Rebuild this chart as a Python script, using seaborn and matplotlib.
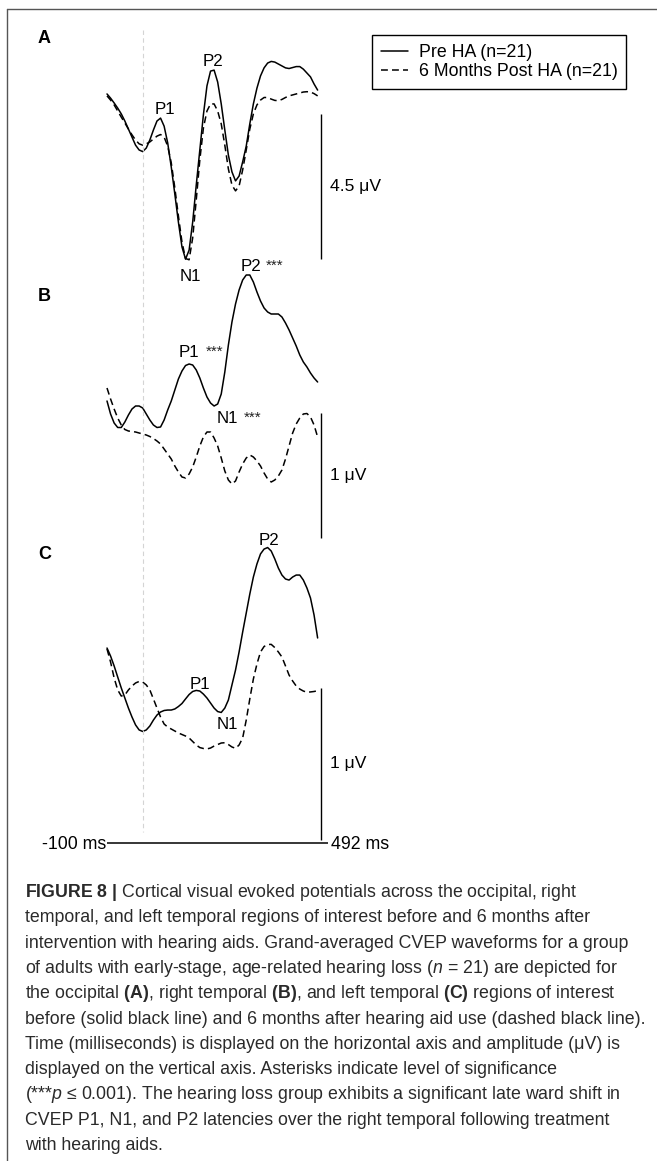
import numpy as np
import pandas as pd
import matplotlib
matplotlib.use("Agg")
import matplotlib.pyplot as plt
import seaborn as sns
from matplotlib.lines import Line2D
from matplotlib import transforms

sns.set_theme(style="white")
plt.rcParams["font.family"] = ["Liberation Sans", "DejaVu Sans"]
plt.rcParams["mathtext.fontset"] = "custom"
plt.rcParams["mathtext.rm"] = "Liberation Sans"
plt.rcParams["mathtext.it"] = "Liberation Sans:italic"
plt.rcParams["mathtext.bf"] = "Liberation Sans:bold"

# ---------------- data (time in ms, amplitude in microvolts) ----------------
time_ms = [-100, -90, -80, -70, -60, -50, -40, -30, -20, -10,
           0, 10, 20, 30, 40, 50, 60, 70, 80, 90,
           100, 110, 120, 130, 140, 150, 160, 170, 180, 190,
           200, 210, 220, 230, 240, 250, 260, 270, 280, 290,
           300, 310, 320, 330, 340, 350, 360, 370, 380, 390,
           400, 410, 420, 430, 440, 450, 460, 470, 480, 490]
conditions = ["Pre HA (n=21)", "6 Months Post HA (n=21)"]

# (A) occipital
occ_pre = [1.43, 1.30, 1.15, 0.99, 0.81, 0.59, 0.34, 0.09, -0.16, -0.31,
           -0.36, -0.25, 0.00, 0.31, 0.59, 0.68, 0.43, -0.09, -0.84, -1.68,
           -2.55, -3.32, -3.70, -3.42, -2.55, -1.40, -0.31, 0.78, 1.68, 2.14,
           2.17, 1.80, 1.12, 0.31, -0.47, -0.99, -1.27, -1.12, -0.68, -0.19,
           0.50, 1.12, 1.61, 1.99, 2.24, 2.39, 2.44, 2.42, 2.36, 2.30,
           2.24, 2.22, 2.25, 2.28, 2.28, 2.20, 2.08, 1.96, 1.74, 1.55]
occ_post = [1.37, 1.24, 1.09, 0.90, 0.71, 0.53, 0.34, 0.16, 0.00, -0.12,
            -0.16, -0.12, -0.06, 0.03, 0.12, 0.17, 0.09, -0.19, -0.71, -1.49,
            -2.36, -3.17, -3.68, -3.72, -3.04, -1.86, -0.62, 0.37, 0.90, 1.12,
            1.12, 0.90, 0.50, -0.16, -0.90, -1.40, -1.58, -1.43, -0.93, -0.31,
            0.34, 0.81, 1.09, 1.24, 1.32, 1.32, 1.27, 1.23, 1.22, 1.26,
            1.32, 1.37, 1.40, 1.43, 1.46, 1.49, 1.50, 1.49, 1.44, 1.37]
# (B) right temporal
rt_pre = [0.232, 0.128, 0.056, 0.020, 0.020, 0.064, 0.120, 0.168, 0.192, 0.192,
          0.176, 0.128, 0.080, 0.040, 0.020, 0.024, 0.080, 0.160, 0.232, 0.320,
          0.408, 0.472, 0.516, 0.528, 0.520, 0.480, 0.416, 0.336, 0.264, 0.216,
          0.192, 0.208, 0.288, 0.464, 0.680, 0.864, 1.008, 1.120, 1.200, 1.240,
          1.240, 1.184, 1.104, 1.032, 0.976, 0.944, 0.928, 0.928, 0.928, 0.904,
          0.856, 0.800, 0.736, 0.672, 0.600, 0.544, 0.504, 0.456, 0.416, 0.384]
rt_post = [0.336, 0.248, 0.168, 0.096, 0.040, 0.004, -0.008, -0.012, -0.016, -0.024,
           -0.032, -0.040, -0.052, -0.068, -0.088, -0.112, -0.152, -0.192, -0.232, -0.288,
           -0.336, -0.376, -0.384, -0.352, -0.296, -0.216, -0.128, -0.056, -0.016, -0.016,
           -0.064, -0.128, -0.224, -0.328, -0.400, -0.432, -0.408, -0.336, -0.272, -0.224,
           -0.200, -0.216, -0.248, -0.288, -0.344, -0.392, -0.416, -0.400, -0.368, -0.320,
           -0.232, -0.128, -0.024, 0.048, 0.096, 0.128, 0.132, 0.104, 0.040, -0.056]
# (C) left temporal
lt_pre = [0.342, 0.289, 0.224, 0.151, 0.079, 0.013, -0.053, -0.112, -0.164, -0.197,
          -0.207, -0.197, -0.171, -0.132, -0.099, -0.079, -0.069, -0.066, -0.066, -0.059,
          -0.043, -0.023, 0.007, 0.036, 0.056, 0.063, 0.059, 0.039, 0.013, -0.020,
          -0.053, -0.076, -0.082, -0.053, 0.000, 0.099, 0.197, 0.316, 0.447, 0.572,
          0.697, 0.809, 0.895, 0.961, 0.993, 1.003, 0.980, 0.928, 0.868, 0.822,
          0.796, 0.789, 0.809, 0.822, 0.822, 0.789, 0.737, 0.671, 0.559, 0.408]
lt_post = [0.336, 0.250, 0.145, 0.066, 0.026, 0.033, 0.066, 0.092, 0.112, 0.122,
           0.118, 0.099, 0.066, 0.007, -0.053, -0.112, -0.158, -0.178, -0.191, -0.204,
           -0.217, -0.227, -0.237, -0.250, -0.273, -0.296, -0.313, -0.319, -0.322, -0.316,
           -0.303, -0.293, -0.283, -0.281, -0.293, -0.309, -0.318, -0.296, -0.250, -0.132,
           0.007, 0.138, 0.237, 0.316, 0.352, 0.365, 0.366, 0.345, 0.316, 0.283,
           0.224, 0.164, 0.125, 0.092, 0.072, 0.059, 0.051, 0.053, 0.056, 0.061]

scale_bar_uv = [4.5, 1.0, 1.0]
scale_labels = ["4.5 μV", "1 μV", "1 μV"]
time_labels = ["-100 ms", "492 ms"]
panel_letters = ["A", "B", "C"]

# ---------------- layout (pixels) ----------------
W, H = 657, 1161
X0_PX, PX_PER_MS = 107.0, 0.357       # x pixel of -100 ms, pixels per ms
panels = [
    dict(pre=occ_pre, post=occ_post, y0=140, s=32.2, top=20, bottom=290, bar_bottom=-3.70),
    dict(pre=rt_pre, post=rt_post, y0=430, s=125.0, top=255, bottom=550, bar_bottom=-0.864),
    dict(pre=lt_pre, post=lt_post, y0=700, s=152.0, top=530, bottom=860, bar_bottom=-0.921),
]
LW = 1.1
DASH = (4.5, 2.7)


def px_to_t(x):
    return (x - X0_PX) / PX_PER_MS - 100


fig = plt.figure(figsize=(W / 100, H / 100), dpi=100)
fig.patch.set_facecolor("white")


def ftext(x, y, s, **kw):
    return fig.text(x / W, 1 - y / H, s, **kw)


axes = []
for i, p in enumerate(panels):
    ax = fig.add_axes([0, 1 - p["bottom"] / H, 1, (p["bottom"] - p["top"]) / H])
    ax.patch.set_alpha(0)
    df = pd.DataFrame({
        "time": time_ms * 2,
        "amp": list(p["pre"]) + list(p["post"]),
        "condition": [conditions[0]] * len(time_ms) + [conditions[1]] * len(time_ms),
    })
    sns.lineplot(data=df, x="time", y="amp", style="condition", style_order=conditions,
                 dashes={conditions[0]: "", conditions[1]: DASH}, color="black",
                 linewidth=LW, estimator=None, sort=False, legend=False, ax=ax)
    ax.set_xlim(px_to_t(0), px_to_t(W))
    ax.set_ylim((p["y0"] - p["bottom"]) / p["s"], (p["y0"] - p["top"]) / p["s"])
    ax.axis("off")
    # amplitude scale bar
    t_bar = px_to_t(320.7)
    b0 = p["bar_bottom"]
    b1 = b0 + scale_bar_uv[i]
    ax.plot([t_bar, t_bar], [b0, b1], color="black", lw=1.0, solid_capstyle="butt")
    ax.text(px_to_t(330), (b0 + b1) / 2, scale_labels[i], ha="left", va="center",
            fontsize=12.6, color="black")
    axes.append(ax)

# time axis under panel C
axC = axes[2]
y_axis = (panels[2]["y0"] - 843) / panels[2]["s"]
axC.plot([time_ms[0], px_to_t(328)], [y_axis, y_axis], color="black", lw=1.1,
         solid_capstyle="butt")
ftext(106, 849, time_labels[0], ha="right", va="baseline", fontsize=12.8, color="black")
ftext(331, 849, time_labels[1], ha="left", va="baseline", fontsize=12.8, color="black")

# stimulus-onset (0 ms) dashed grey line
tr = transforms.blended_transform_factory(axes[0].transData, fig.transFigure)
fig.add_artist(Line2D([0, 0], [1 - 30 / H, 1 - 832 / H], transform=tr, color="#d4d4d4",
                      lw=0.8, dashes=(4, 3)))

# panel letters
for letter, yb in zip(panel_letters, [43, 301, 559]):
    ftext(38, yb, letter, ha="left", va="baseline", fontsize=13, fontweight="bold",
          color="black")

# peak labels (text, x center, baseline, asterisks x start or None)
peak_labels = [
    ("P1", 165, 114, None), ("P2", 212.7, 66, None), ("N1", 190, 281, None),
    ("P2", 250.7, 271, 266), ("P1", 189.3, 357, 205.7), ("N1", 227.7, 423, 244),
    ("P2", 269, 545, None), ("P1", 200, 689, None), ("N1", 227.3, 729, None),
]
for txt, xc, yb, xa in peak_labels:
    ftext(xc, yb, txt, ha="center", va="baseline", fontsize=12.2, color="black")
    if xa is not None:
        ftext(xa, yb - 1, "***", ha="left", va="baseline", fontsize=11, color="#222222")

# legend
handles = [Line2D([], [], color="black", lw=LW),
           Line2D([], [], color="black", lw=LW, dashes=DASH)]
leg = fig.legend(handles, conditions, loc="upper left",
                 bbox_to_anchor=(372 / W, 1 - 35 / H), bbox_transform=fig.transFigure,
                 frameon=True, fancybox=False, edgecolor="black", framealpha=1,
                 fontsize=12.8, handlelength=1.5, handletextpad=0.62, borderpad=0.5,
                 labelspacing=0.12, borderaxespad=0)
leg.get_frame().set_linewidth(1.0)
for t in leg.get_texts():
    t.set_color("black")

# figure frame (top and left rules)
fig.add_artist(Line2D([7 / W, 1], [1 - 9 / H, 1 - 9 / H], transform=fig.transFigure,
                      color="#555555", lw=1.0))
fig.add_artist(Line2D([7 / W, 7 / W], [1 - 9 / H, 0], transform=fig.transFigure,
                      color="#555555", lw=1.0))

# caption
cap_lines = [
    r"$\mathbf{FIGURE\ 8\ |}$ Cortical visual evoked potentials across the occipital, right",
    "temporal, and left temporal regions of interest before and 6 months after",
    "intervention with hearing aids. Grand-averaged CVEP waveforms for a group",
    r"of adults with early-stage, age-related hearing loss ($\mathit{n}$ = 21) are depicted for",
    r"the occipital $\mathbf{(A)}$, right temporal $\mathbf{(B)}$, and left temporal $\mathbf{(C)}$ regions of interest",
    "before (solid black line) and 6 months after hearing aid use (dashed black line).",
    "Time (milliseconds) is displayed on the horizontal axis and amplitude (μV) is",
    "displayed on the vertical axis. Asterisks indicate level of significance",
    r"(***$\mathit{p}$ ≤ 0.001). The hearing loss group exhibits a significant late ward shift in",
    "CVEP P1, N1, and P2 latencies over the right temporal following treatment",
    "with hearing aids.",
]
for k, line in enumerate(cap_lines):
    ftext(25, 897 + 25.3 * k, line, ha="left", va="baseline", fontsize=12.8,
          color="#2a2a2a")

fig.savefig("out.png", dpi=100)
